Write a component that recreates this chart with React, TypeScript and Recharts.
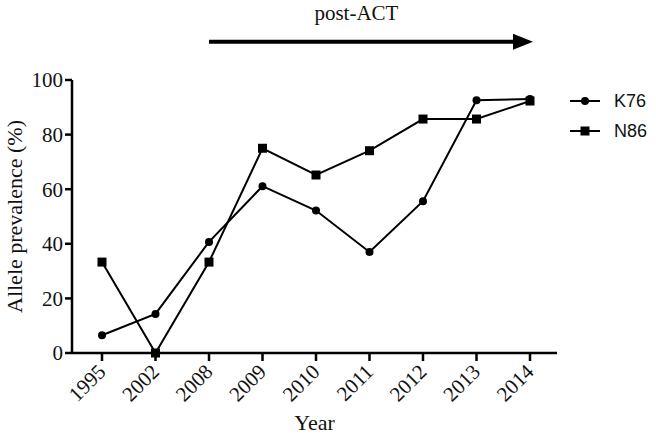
import { LineChart, Line, XAxis, YAxis, ReferenceLine } from "recharts";

const years = ["1995", "2002", "2008", "2009", "2010", "2011", "2012", "2013", "2014"];
const k76 = [6.5, 14.3, 40.7, 61.1, 52.2, 37.0, 55.6, 92.6, 93.0];
const n86 = [33.3, 0, 33.3, 75.0, 65.2, 74.1, 85.7, 85.7, 92.3];
const yTicks = [0, 20, 40, 60, 80, 100];

const data = years.map((year, i) => ({ year, K76: k76[i], N86: n86[i] }));

const SERIF = "'Liberation Serif', 'Times New Roman', serif";
const SANS = "'Liberation Sans', Arial, sans-serif";

function CircleDot(props: any) {
  const { cx, cy } = props;
  if (cx == null || cy == null) return null;
  return <circle cx={cx} cy={cy} r={4} fill="#000" />;
}

function SquareDot(props: any) {
  const { cx, cy } = props;
  if (cx == null || cy == null) return null;
  return <rect x={cx - 4.5} y={cy - 4.5} width={9} height={9} fill="#000" />;
}

function XTick(props: any) {
  const { x, y, payload } = props;
  return (
    <text
      x={x + 5}
      y={y + 10}
      transform={`rotate(-45, ${x + 5}, ${y + 10})`}
      textAnchor="end"
      fontFamily={SERIF}
      fontSize={21}
      fill="#111"
    >
      {payload.value}
    </text>
  );
}

// arrow + caption above the post-ACT years
function ArrowShape(props: any) {
  const { x1, y1, x2 } = props;
  if (x1 == null) return null;
  const tip = x2 + 3;
  return (
    <g>
      <line x1={x1} y1={y1} x2={tip - 16} y2={y1} stroke="#000" strokeWidth={4} />
      <polygon points={`${tip},${y1} ${tip - 20},${y1 - 8} ${tip - 20},${y1 + 8}`} fill="#000" />
      <text
        x={x1 + (tip - x1) * 0.455}
        y={y1 - 37}
        dominantBaseline="hanging"
        textAnchor="middle"
        fontFamily={SERIF}
        fontSize={21}
        fill="#111"
      >
        post-ACT
      </text>
    </g>
  );
}

function LegendBox() {
  const rows = [
    { name: "K76", marker: <circle cx={15} cy={10} r={4} fill="#000" /> },
    { name: "N86", marker: <rect x={10.5} y={5.5} width={9} height={9} fill="#000" /> },
  ];
  return (
    <div style={{ position: "absolute", top: 86, left: 570, fontFamily: SANS, fontSize: 18, color: "#111" }}>
      {rows.map((r) => (
        <div key={r.name} style={{ display: "flex", alignItems: "center", height: 30 }}>
          <svg width={30} height={20}>
            <line x1={0} y1={10} x2={30} y2={10} stroke="#000" strokeWidth={2} />
            {r.marker}
          </svg>
          <span style={{ marginLeft: 14 }}>{r.name}</span>
        </div>
      ))}
    </div>
  );
}

export default function App() {
  return (
    <div style={{ position: "absolute", top: 0, left: 0, background: "#fff", width: 656, height: 441 }}>
      <LineChart width={656} height={441} data={data} margin={{ top: 80, right: 99, bottom: 58, left: 12 }}>
        <XAxis
          dataKey="year"
          height={30}
          padding={{ left: 30, right: 27 }}
          stroke="#000"
          strokeWidth={2.5}
          tickLine={{ stroke: "#000", strokeWidth: 2.5 }}
          tickSize={8}
          tick={<XTick />}
          interval={0}
          label={{ value: "Year", position: "insideBottom", offset: -47, fontFamily: SERIF, fontSize: 22, fill: "#111" }}
        />
        <YAxis
          width={60}
          domain={[0, 100]}
          ticks={yTicks}
          stroke="#000"
          strokeWidth={2.5}
          tickLine={{ stroke: "#000", strokeWidth: 2.5 }}
          tickSize={7}
          tickMargin={2}
          tick={{ fontFamily: SERIF, fontSize: 21, fill: "#111" }}
          label={{
            value: "Allele prevalence (%)",
            angle: -90,
            position: "insideLeft",
            offset: 2,
            style: { textAnchor: "middle", fontFamily: SERIF, fontSize: 22, fill: "#111" },
          }}
        />
        <ReferenceLine
          segment={[
            { x: "2008", y: 114 },
            { x: "2014", y: 114 },
          ]}
          ifOverflow="visible"
          shape={<ArrowShape />}
        />
        <Line
          dataKey="K76"
          stroke="#000"
          strokeWidth={2}
          dot={<CircleDot />}
          activeDot={false}
          isAnimationActive={false}
        />
        <Line
          dataKey="N86"
          stroke="#000"
          strokeWidth={2}
          dot={<SquareDot />}
          activeDot={false}
          isAnimationActive={false}
        />
      </LineChart>
      <LegendBox />
    </div>
  );
}
